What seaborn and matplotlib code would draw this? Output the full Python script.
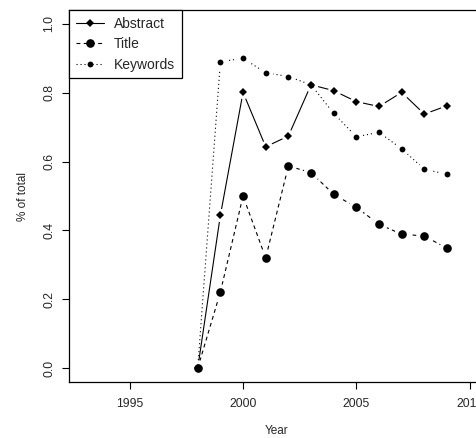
import numpy as np
import pandas as pd
import matplotlib
matplotlib.use("Agg")
import matplotlib.pyplot as plt
from matplotlib.lines import Line2D
import seaborn as sns

# Share of records in which the search term appears, by field
years = [1998, 1999, 2000, 2001, 2002, 2003, 2004, 2005, 2006, 2007, 2008, 2009]
abstract = [0.0, 0.444, 0.801, 0.643, 0.674, 0.823, 0.806, 0.774, 0.760, 0.801, 0.738, 0.762]
title = [0.0, 0.221, 0.500, 0.320, 0.587, 0.568, 0.505, 0.467, 0.418, 0.389, 0.384, 0.348]
keywords = [0.0, 0.890, 0.900, 0.858, 0.847, 0.823, 0.740, 0.672, 0.685, 0.637, 0.578, 0.563]
series_names = ["Abstract", "Title", "Keywords"]
x_ticks = [1995, 2000, 2005, 2010]
y_ticks = [0.0, 0.2, 0.4, 0.6, 0.8, 1.0]

sns.set_theme(style="white")
plt.rcParams["font.family"] = ["Liberation Sans", "DejaVu Sans"]

df = pd.DataFrame({
    "Year": years * 3,
    "value": abstract + title + keywords,
    "series": np.repeat(series_names, len(years)),
})

styles = {
    "Abstract": dict(ls="-", marker="D", ms=4.0),
    "Title": dict(ls=(0, (3.5, 3)), marker="o", ms=6.2),
    "Keywords": dict(ls=(0, (1, 2.6)), marker="o", ms=4.2),
}

fig = plt.figure(figsize=(4.76, 4.38), dpi=100)
ax = fig.add_axes([0.145, 0.128, 0.874, 0.849])

# connecting lines
for name in series_names:
    sub = df[df["series"] == name]
    sns.lineplot(data=sub, x="Year", y="value", ax=ax, color="black",
                 linewidth=0.8, linestyle=styles[name]["ls"], legend=False,
                 estimator=None, zorder=2)

# white gaps around points, then the points themselves
for name in series_names:
    sub = df[df["series"] == name]
    ax.plot(sub["Year"], sub["value"], ls="none", marker="o",
            ms=styles[name]["ms"] + 4.5, mfc="white", mec="white", zorder=3)
for name in series_names:
    sub = df[df["series"] == name]
    ax.plot(sub["Year"], sub["value"], ls="none", marker=styles[name]["marker"],
            ms=styles[name]["ms"], mfc="black", mec="black", mew=0, zorder=4)

ax.set_xlim(1992.32, 2010.68)
ax.set_ylim(-0.04, 1.04)
ax.set_xticks(x_ticks)
ax.set_xticklabels([str(t) for t in x_ticks], fontsize=8.8)
ax.set_yticks(y_ticks)
ax.set_yticklabels([f"{t:.1f}" for t in y_ticks], fontsize=8.8, rotation=90, va="center")
ax.tick_params(axis="both", direction="out", length=5, width=0.8, color="black",
               bottom=True, left=True)
ax.tick_params(axis="x", pad=6.5)
ax.tick_params(axis="y", pad=5)
ax.set_xlabel("Year", fontsize=8.5, labelpad=11)
ax.set_ylabel("% of total", fontsize=8.5, labelpad=10)
for sp in ax.spines.values():
    sp.set_color("black")
    sp.set_linewidth(0.9)
ax.grid(False)

handles = [
    Line2D([], [], color="black", lw=0.8, ls=styles[n]["ls"], marker=styles[n]["marker"],
           ms=styles[n]["ms"], mfc="black", mec="black", mew=0)
    for n in series_names
]
leg = ax.legend(handles, series_names, loc="upper left", bbox_to_anchor=(0, 1),
                borderaxespad=0, fontsize=10, handlelength=2.0, handletextpad=0.75,
                labelspacing=0.45, borderpad=0.5, fancybox=False, framealpha=1,
                edgecolor="black")
leg.get_frame().set_linewidth(0.9)

fig.savefig("out.png", dpi=100)
